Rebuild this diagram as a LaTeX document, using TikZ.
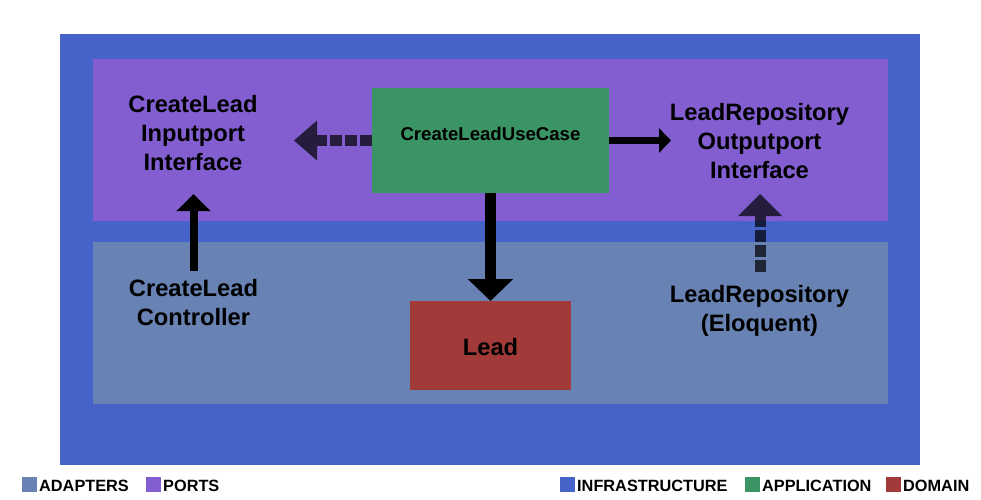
\documentclass[tikz,border=0pt]{standalone}
\usepackage{fontspec}
\setmainfont{Liberation Sans}
\usetikzlibrary{arrows.meta}

\definecolor{infracol}{HTML}{4563C9}
\definecolor{portcol}{HTML}{825ED0}
\definecolor{adaptcol}{HTML}{6882B3}
\definecolor{appcol}{HTML}{3A9463}
\definecolor{domcol}{HTML}{A33A3A}

\begin{document}
\begin{tikzpicture}[x=1pt,y=-1pt]
		\tikzstyle{layer}=[inner sep=0pt,outer sep=0pt]
		\tikzstyle{txt}=[font=\fontsize{23.7}{29}\selectfont\bfseries,align=center,inner sep=0pt]
		\tikzstyle{keybox}=[inner sep=0pt,minimum size=15pt]
		\tikzstyle{keytxt}=[font=\fontsize{16.3}{18}\selectfont\bfseries,inner sep=0pt,anchor=base west]
		\tikzstyle{strong}=[draw=black]
		%\tikzstyle{weak}=[draw=black,dashed]
		\tikzstyle{weak}=[draw=black,opacity=0.7,dash pattern=on 12pt off 3pt]
		
		\useasboundingbox (0,0) rectangle (981,499);
		
		\node[layer,fill=infracol,minimum width=860pt,minimum height=431pt](infra) at (490,249.5){};
		\node[layer,fill=portcol,minimum width=795pt,minimum height=162pt](ports) at (490.5,140){};
		\node[layer,fill=adaptcol,minimum width=795pt,minimum height=162pt](adapters) at (490.5,323){};
		
		\node[layer,fill=appcol,minimum width=237pt,minimum height=105pt,text height=14pt,text depth=14pt,font=\fontsize{18.6}{23}\selectfont\bfseries](usecase) at (490.5,140.5){CreateLeadUseCase};
		\node[layer,fill=domcol,minimum width=161pt,minimum height=89pt,text height=20pt,text depth=0pt,font=\fontsize{23.7}{29}\selectfont\bfseries](lead) at (490.5,345.5){Lead};
		
		\node[txt](inport) at (193,133){CreateLead\\Inputport\\Interface};
		\node[txt](outport) at (759.5,141){LeadRepository\\Outputport\\Interface};
		\node[txt](controller) at (193.5,302.5){CreateLead\\Controller};
		\node[txt](eloquent) at (759.5,311){LeadRepository\\(Eloquent)};
		
		\coordinate(intip) at (294,140.5);
		\coordinate(outtip) at (671,140.5);
		\coordinate(ctrlbase) at (193.5,271);
		\coordinate(ctrltip) at (193.5,194);
		\coordinate(repobase) at (760,272);
		\coordinate(repotip) at (760,194);
		
		\draw[weak,line width=11pt,-{Triangle[length=23pt,width=40pt,line width=0pt]}] (usecase.west) -- (intip);
		\draw[strong,line width=7pt,-{Triangle[length=12pt,width=24pt]}] (usecase.east) -- (outtip);
		\draw[strong,line width=10.5pt,-{Triangle[length=22pt,width=44pt]}] (usecase.south) -- (lead.north);
		\draw[strong,line width=8pt,-{Triangle[length=17pt,width=33pt]}] (ctrlbase) -- (ctrltip);
		\draw[weak,line width=11pt,-{Triangle[length=22pt,width=44pt,line width=0pt]}] (repobase) -- (repotip);
		
		\node[keybox,fill=adaptcol](kadapt) at (29.5,484.5){};
		\node[keytxt](tadapt) at (39,491){ADAPTERS};
		\node[keybox,fill=portcol](kport) at (153.5,484.5){};
		\node[keytxt](tport) at (163,491){PORTS};
		\node[keybox,fill=infracol](kinfra) at (567.5,484.5){};
		\node[keytxt](tinfra) at (577,491){INFRASTRUCTURE};
		\node[keybox,fill=appcol](kapp) at (752.5,484.5){};
		\node[keytxt](tapp) at (762,491){APPLICATION};
		\node[keybox,fill=domcol](kdom) at (893.5,484.5){};
		\node[keytxt](tdom) at (903,491){DOMAIN};
\end{tikzpicture}
\end{document}
